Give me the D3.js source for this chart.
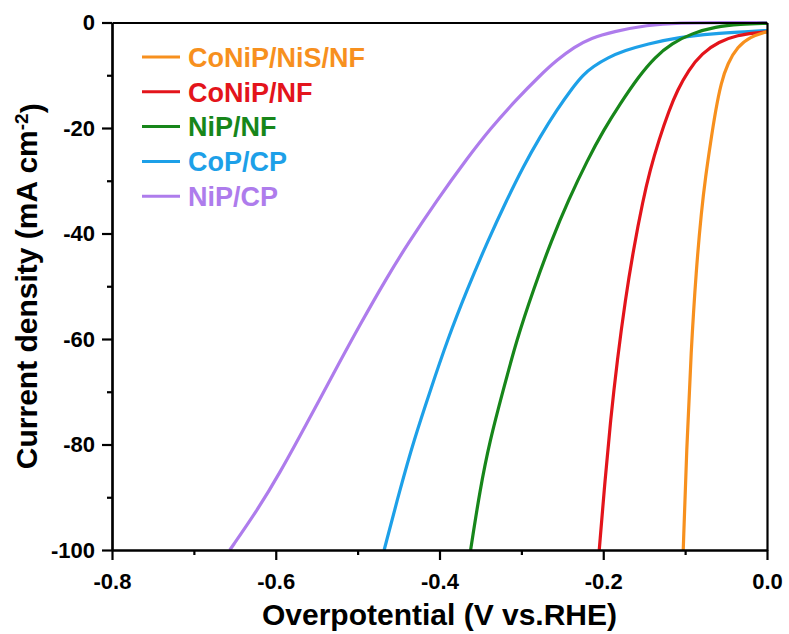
<!DOCTYPE html>
<html>
<head>
<meta charset="utf-8">
<script src="https://cdn.jsdelivr.net/npm/d3@7"></script>
<style>
  html, body { margin: 0; padding: 0; background: #fff; }
  svg { display: block; }
  text { font-family: "Liberation Sans", Arial, Helvetica, sans-serif; font-weight: bold; }
</style>
</head>
<body>
<svg id="chart" width="789" height="634"></svg>
<script>
// ---------------- data ----------------
const seriesNames = ["CoNiP/NiS/NF", "CoNiP/NF", "NiP/NF", "CoP/CP", "NiP/CP"];
const seriesColors = ["#F7901E", "#E3141B", "#17861A", "#1DA0E8", "#AE7CEC"];

// [overpotential (V), current density (mA cm^-2)]
const coNiPNiSNF = [[-0.1023,-100],[-0.0982,-81.0],[-0.0927,-62.1],[-0.0865,-46.9],[-0.0800,-35.6],
  [-0.0750,-29.2],[-0.0690,-22.8],[-0.0627,-16.6],[-0.0562,-11.5],[-0.0480,-7.7],[-0.0360,-4.6],
  [-0.0208,-2.7],[0,-1.74]];
const coNiPNF = [[-0.2049,-100],[-0.1978,-86.7],[-0.1911,-75.4],[-0.1829,-64.0],[-0.1731,-52.6],
  [-0.1632,-43.1],[-0.1515,-33.7],[-0.1428,-28.0],[-0.1321,-22.3],[-0.1195,-16.6],[-0.1093,-12.8],
  [-0.0958,-9.0],[-0.0794,-5.84],[-0.0591,-3.64],[-0.0351,-2.37],[-0.0147,-1.99],[0,-1.76]];
const niPNF = [[-0.3620,-100],[-0.3506,-88.6],[-0.3384,-79.2],[-0.3222,-69.7],[-0.3058,-60.2],
  [-0.2855,-50.7],[-0.2630,-41.2],[-0.2426,-33.7],[-0.2194,-26.1],[-0.1996,-20.4],[-0.1790,-15.3],
  [-0.1571,-10.3],[-0.1368,-6.54],[-0.1161,-3.94],[-0.0916,-2.05],[-0.0629,-0.80],[-0.0330,-0.32],[0,-0.15]];
const coPCP = [[-0.4676,-100],[-0.4484,-88.6],[-0.4313,-79.2],[-0.4111,-69.7],[-0.3904,-60.2],
  [-0.3665,-50.7],[-0.3405,-41.2],[-0.3180,-33.7],[-0.2977,-27.3],[-0.2773,-21.7],[-0.2569,-16.6],
  [-0.2367,-12.2],[-0.2248,-9.95],[-0.2126,-8.38],[-0.1943,-6.64],[-0.1735,-5.31],[-0.1470,-4.08],
  [-0.1063,-2.75],[-0.0656,-2.09],[-0.0248,-1.74],[0,-1.52]];
const niPCP = [[-0.6561,-100],[-0.6231,-92.6],[-0.5950,-85.4],[-0.5624,-76.1],[-0.5297,-66.6],
  [-0.4972,-57.3],[-0.4633,-48.1],[-0.4398,-42.2],[-0.4037,-33.8],[-0.3660,-25.7],[-0.3378,-20.1],
  [-0.3073,-14.8],[-0.2767,-9.95],[-0.2566,-7.11],[-0.2352,-4.64],[-0.2150,-2.94],[-0.1881,-1.74],
  [-0.1466,-0.47],[-0.1063,-0.06],[-0.0574,0],[0,0]];
const seriesData = [coNiPNiSNF, coNiPNF, niPNF, coPCP, niPCP];

const xMajorTicks = [-0.8, -0.6, -0.4, -0.2, 0.0];
const xTickLabels = ["-0.8", "-0.6", "-0.4", "-0.2", "0.0"];
const xMinorTicks = [-0.7, -0.5, -0.3, -0.1];
const yMajorTicks = [0, -20, -40, -60, -80, -100];
const yTickLabels = ["0", "-20", "-40", "-60", "-80", "-100"];
const yMinorTicks = [-10, -30, -50, -70, -90];

const xTitle = "Overpotential (V vs.RHE)";
const yTitleMain = "Current density (mA cm";
const yTitleSup = "-2";

// ---------------- layout ----------------
const svg = d3.select("#chart");
const L = 112, R = 767, T = 22.5, B = 550;

const x = d3.scaleLinear().domain([-0.8, 0]).range([L, R]);
const y = d3.scaleLinear().domain([-100, 0]).range([B, T]);

// curves
const line = d3.line().x(d => x(d[0])).y(d => y(d[1])).curve(d3.curveBasis);
const plot = svg.append("g");
seriesData.slice().reverse().forEach((s, k) => {
  const i = seriesData.length - 1 - k;
  plot.append("path")
    .datum(s)
    .attr("fill", "none")
    .attr("stroke", seriesColors[i])
    .attr("stroke-width", 3.2)
    .attr("stroke-linejoin", "round")
    .attr("stroke-linecap", "butt")
    .attr("d", line);
});

// axes
const axisFont = 22;
const xAxis = svg.append("g").attr("transform", `translate(0,${B})`)
  .call(d3.axisBottom(x).tickValues(xMajorTicks).tickFormat((d, i) => xTickLabels[i])
    .tickSize(10).tickPadding(8).tickSizeOuter(0));
const xMinor = svg.append("g").attr("transform", `translate(0,${B})`)
  .call(d3.axisBottom(x).tickValues(xMinorTicks).tickFormat("").tickSize(5).tickSizeOuter(0));
const yAxis = svg.append("g").attr("transform", `translate(${L},0)`)
  .call(d3.axisLeft(y).tickValues(yMajorTicks).tickFormat((d, i) => yTickLabels[i])
    .tickSize(10).tickPadding(7).tickSizeOuter(0));
const yMinor = svg.append("g").attr("transform", `translate(${L},0)`)
  .call(d3.axisLeft(y).tickValues(yMinorTicks).tickFormat("").tickSize(5).tickSizeOuter(0));
const topAxis = svg.append("g").attr("transform", `translate(0,${T})`)
  .call(d3.axisTop(x).tickValues([]).tickSizeOuter(0));
const rightAxis = svg.append("g").attr("transform", `translate(${R},0)`)
  .call(d3.axisRight(y).tickValues([]).tickSizeOuter(0));

[xAxis, xMinor, yAxis, yMinor, topAxis, rightAxis].forEach(g => {
  g.selectAll("path.domain").attr("stroke", "#000").attr("stroke-width", 2.2);
  g.selectAll(".tick line").attr("stroke", "#000").attr("stroke-width", 2.2);
  g.selectAll(".tick text").attr("fill", "#000").style("font-size", axisFont + "px")
    .style("font-family", "'Liberation Sans', Arial, sans-serif").style("font-weight", "bold");
});
xAxis.selectAll(".tick text").attr("dy", "0.95em");

// axis titles
svg.append("text")
  .attr("x", (L + R) / 2).attr("y", 625)
  .attr("text-anchor", "middle")
  .style("font-size", "30px")
  .attr("fill", "#000")
  .text(xTitle);

const yt = svg.append("text")
  .attr("transform", `translate(37,${(T + B) / 2}) rotate(-90)`)
  .attr("text-anchor", "middle")
  .style("font-size", "30px")
  .attr("fill", "#000");
yt.append("tspan").text(yTitleMain);
yt.append("tspan").attr("dy", "-0.45em").style("font-size", "19px").text(yTitleSup);
yt.append("tspan").attr("dy", "0.45em").text(")");

// legend
const legend = svg.append("g");
const legY0 = 57, legDy = 34.8;
seriesNames.forEach((n, i) => {
  const cy = legY0 + i * legDy;
  legend.append("line")
    .attr("x1", 142).attr("x2", 180).attr("y1", cy).attr("y2", cy)
    .attr("stroke", seriesColors[i]).attr("stroke-width", 3);
  legend.append("text")
    .attr("x", 188).attr("y", cy + 9.8)
    .style("font-size", "27px")
    .attr("fill", seriesColors[i])
    .text(n);
});
</script>
</body>
</html>
